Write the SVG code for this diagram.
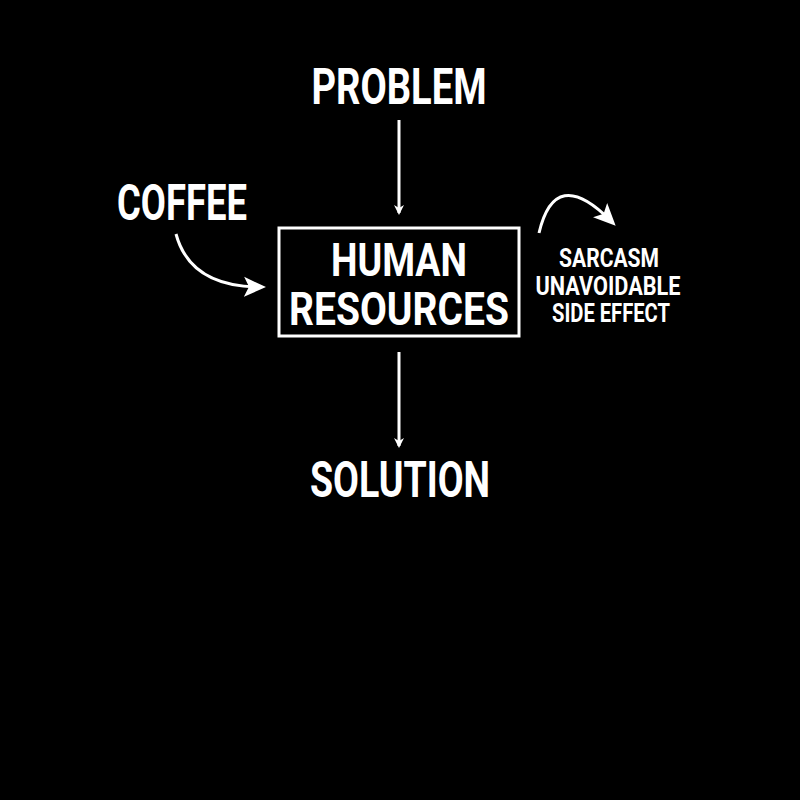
<svg xmlns="http://www.w3.org/2000/svg" width="800" height="800" viewBox="0 0 800 800">
<style>
text{font-family:"Roboto","DejaVu Sans",sans-serif;font-weight:bold;fill:#fff;text-anchor:middle}
.b{font-size:50px}.m{font-size:46px}.s{font-size:25px}
.c{stroke:#fff;stroke-width:3;fill:none}
</style>
<defs>
<marker id="a" markerWidth="10" markerHeight="10" refX="8" refY="5" orient="auto" markerUnits="userSpaceOnUse" viewBox="0 0 10 10"><path d="M0,0 L10,5 L0,10 L3,5 Z" fill="#fff"/></marker>
<marker id="h" markerWidth="24" markerHeight="24" refX="14" refY="12" orient="auto" markerUnits="userSpaceOnUse" viewBox="0 0 24 24"><path d="M0,2 L22,12 L0,22 L5,12 Z" fill="#fff"/></marker>
</defs>
<rect width="800" height="800" fill="#000"/>
<g id="problem"><text class="b" x="399" y="104" textLength="175" lengthAdjust="spacingAndGlyphs">PROBLEM</text></g>
<g id="coffee"><text class="b" x="182" y="220" textLength="130" lengthAdjust="spacingAndGlyphs">COFFEE</text></g>
<g id="hr"><rect x="279" y="228" width="240" height="108" class="c"/>
<text class="m" x="399" y="276" textLength="136" lengthAdjust="spacingAndGlyphs">HUMAN</text>
<text class="m" x="399" y="325" textLength="220" lengthAdjust="spacingAndGlyphs">RESOURCES</text></g>
<g id="solution"><text class="b" x="400" y="497" textLength="180" lengthAdjust="spacingAndGlyphs">SOLUTION</text></g>
<g id="sarcasm">
<text class="s" x="609" y="267" textLength="100" lengthAdjust="spacingAndGlyphs">SARCASM</text>
<text class="s" x="608" y="295" textLength="145" lengthAdjust="spacingAndGlyphs">UNAVOIDABLE</text>
<text class="s" x="611" y="322" textLength="118" lengthAdjust="spacingAndGlyphs">SIDE EFFECT</text></g>
<g id="connectors">
<line x1="399" y1="120" x2="399" y2="213" class="c" stroke-width="2" marker-end="url(#a)"/>
<line x1="399" y1="352" x2="399" y2="446" class="c" stroke-width="2" marker-end="url(#a)"/>
<path d="M176,234 Q190,286 258,287" class="c" stroke-width="3" marker-end="url(#h)"/>
<path d="M539,233 Q555,165 610,220" class="c" stroke-width="3" marker-end="url(#h)"/>
</g>
</svg>
